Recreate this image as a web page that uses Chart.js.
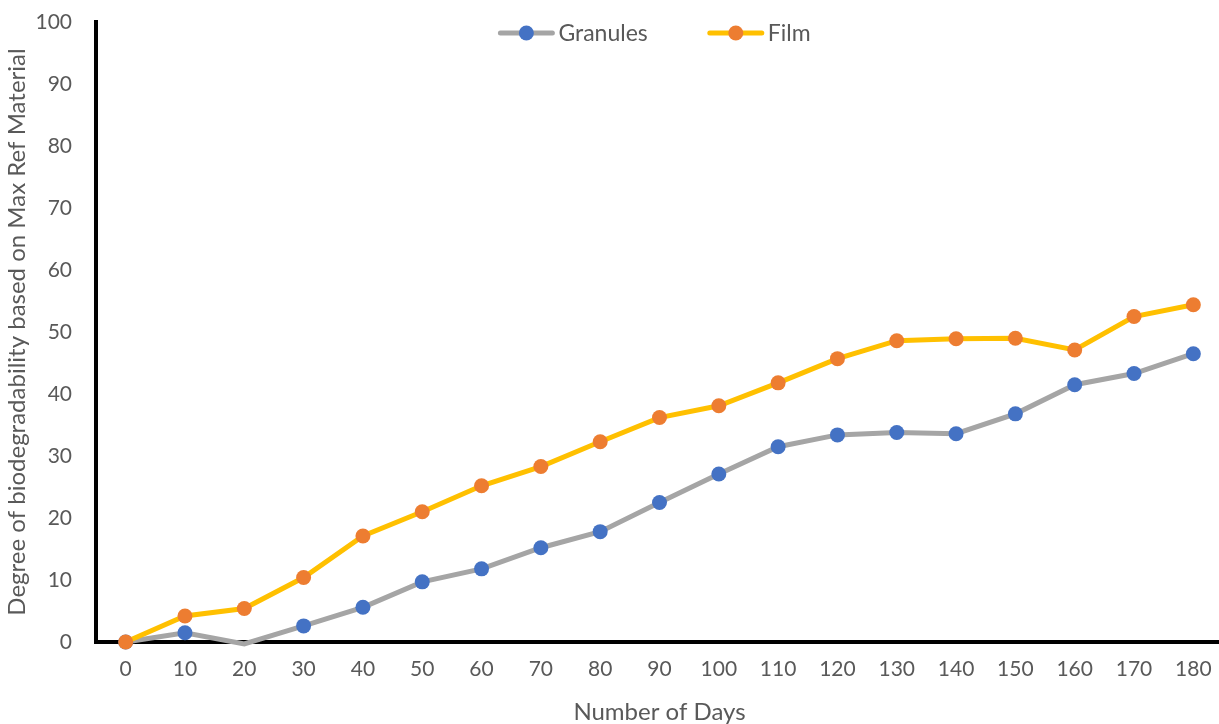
<!DOCTYPE html>
<html>
<head>
<meta charset="utf-8">
<script src="https://cdn.jsdelivr.net/npm/chart.js@4/dist/chart.umd.min.js"></script>
<style>
  html, body { margin: 0; padding: 0; background: #ffffff; }
  #wrap { width: 1219px; height: 724px; overflow: hidden; }
</style>
</head>
<body>
<div id="wrap"><canvas id="c" width="1240" height="724"></canvas></div>
<script>
// Sampling days
const days = [0, 10, 20, 30, 40, 50, 60, 70, 80, 90, 100, 110, 120, 130, 140, 150, 160, 170, 180];
// Degree of biodegradability (% of max reference material)
const granules = [0, 1.5, -0.3, 2.6, 5.6, 9.7, 11.8, 15.2, 17.8, 22.5, 27.1, 31.5, 33.4, 33.8, 33.6, 36.8, 41.5, 43.3, 46.5];
const film = [0, 4.2, 5.4, 10.4, 17.1, 21.0, 25.2, 28.3, 32.3, 36.2, 38.1, 41.8, 45.7, 48.6, 48.9, 49.0, 47.1, 52.5, 54.4];
const yTicks = [0, 10, 20, 30, 40, 50, 60, 70, 80, 90, 100];

const FONT = 'Lato, "Liberation Sans", sans-serif';
const TEXT = '#595959';

const series = [
  { label: 'Granules', data: granules, line: '#A5A5A5', dot: '#4472C4', order: 1 },
  { label: 'Film', data: film, line: '#FFC000', dot: '#ED7D31', order: 0 }
];

// Legend drawn along the top of the plot: line-with-dot swatch followed by the label
const topLegend = {
  id: 'topLegend',
  afterDraw(chart) {
    const ctx = chart.ctx;
    const area = chart.chartArea;
    const sw = 56, gapText = 4, gapItem = 60, y = area.top + 11;
    ctx.save();
    ctx.font = '23px ' + FONT;
    const items = chart.data.datasets.map(d => ({ d, w: ctx.measureText(d.label).width }));
    const total = items.reduce((s, it) => s + sw + gapText + it.w, 0) + gapItem * (items.length - 1);
    let x = (area.left + area.right) / 2 - 5 - total / 2;
    items.forEach(({ d, w }) => {
      ctx.strokeStyle = d.borderColor;
      ctx.lineWidth = 5;
      ctx.lineCap = 'round';
      ctx.beginPath(); ctx.moveTo(x + 2, y); ctx.lineTo(x + sw - 2, y); ctx.stroke();
      ctx.fillStyle = d.pointBackgroundColor;
      ctx.beginPath(); ctx.arc(x + sw / 2, y, 7.5, 0, Math.PI * 2); ctx.fill();
      ctx.fillStyle = TEXT;
      ctx.textBaseline = 'middle';
      ctx.textAlign = 'left';
      ctx.fillText(d.label, x + sw + gapText, y + 1);
      x += sw + gapText + w + gapItem;
    });
    ctx.restore();
  }
};

new Chart(document.getElementById('c'), {
  type: 'line',
  data: {
    labels: days,
    datasets: series.map(s => ({
      label: s.label,
      data: s.data,
      borderColor: s.line,
      backgroundColor: s.dot,
      pointBackgroundColor: s.dot,
      pointBorderColor: s.dot,
      // markers below the axis minimum are not shown
      pointRadius: (ctx) => (ctx.raw < 0 ? 0 : 7.5),
      pointBorderWidth: 0,
      borderWidth: 5,
      tension: 0,
      clip: false,
      order: s.order
    }))
  },
  plugins: [topLegend],
  options: {
    responsive: false,
    animation: false,
    layout: { padding: { top: 22, right: 17, left: 3, bottom: -3 } },
    plugins: {
      tooltip: { enabled: false },
      legend: { display: false }
    },
    scales: {
      x: {
        type: 'category',
        offset: true,
        grid: { display: false, drawTicks: false },
        border: { display: true, color: '#000000', width: 4 },
        ticks: { color: TEXT, font: { family: FONT, size: 21 }, padding: 15, maxRotation: 0, autoSkip: false },
        title: { display: true, text: 'Number of Days', color: TEXT, font: { family: FONT, size: 24 }, padding: { top: 1, bottom: 0 } },
        afterFit: (axis) => { axis.paddingLeft = 0; axis.paddingRight = 0; }
      },
      y: {
        min: 0,
        max: 100,
        afterBuildTicks: (axis) => { axis.ticks = yTicks.map(v => ({ value: v })); },
        grid: { display: false, drawTicks: false },
        border: { display: true, color: '#000000', width: 4 },
        ticks: { color: TEXT, font: { family: FONT, size: 21 }, padding: 24 },
        title: { display: true, text: 'Degree of biodegradability based on Max Ref Material', color: TEXT, font: { family: FONT, size: 24 }, padding: { top: 0, bottom: 6 } },
        afterFit: (axis) => { axis.width = 93; axis.paddingTop = 0; axis.paddingBottom = 0; }
      }
    }
  }
});
</script>
</body>
</html>
